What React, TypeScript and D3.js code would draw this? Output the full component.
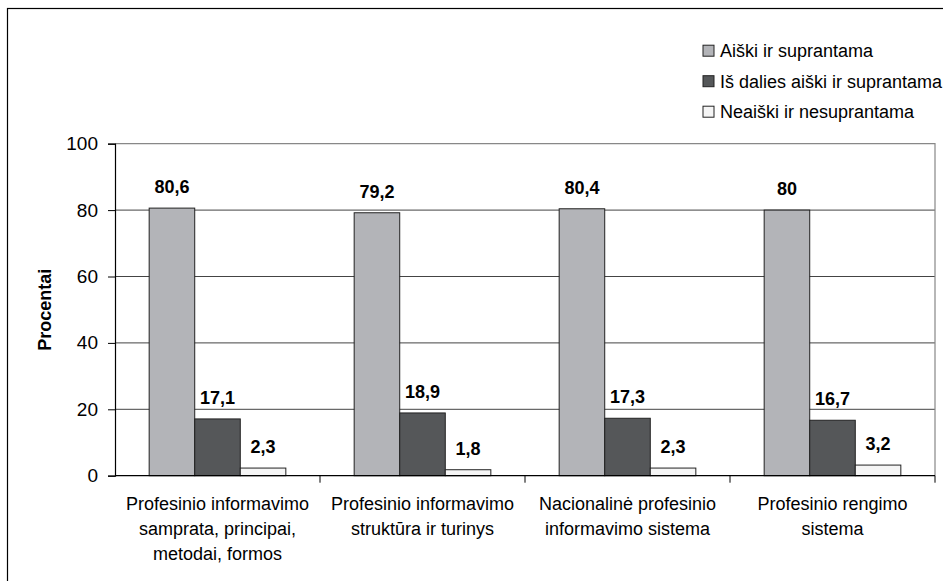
import { useEffect, useRef } from 'react';
import * as d3 from 'd3';

const categories = [
    ['Profesinio informavimo', 'samprata, principai,', 'metodai, formos'],
    ['Profesinio informavimo', 'struktūra ir turinys'],
    ['Nacionalinė profesinio', 'informavimo sistema'],
    ['Profesinio rengimo', 'sistema'],
];
const seriesNames = ['Aiški ir suprantama', 'Iš dalies aiški ir suprantama', 'Neaiški ir nesuprantama'];
const seriesColors = ['#b3b4b8', '#555759', '#f5f5f5'];
const aiski = [80.6, 79.2, 80.4, 80];
const isDalies = [17.1, 18.9, 17.3, 16.7];
const neaiski = [2.3, 1.8, 2.3, 3.2];
const yTicks = [0, 20, 40, 60, 80, 100];

const W = 943;
const H = 581;
const FONT = '"Liberation Sans", Arial, sans-serif';

export default function App() {
    const svgRef = useRef(null);

    useEffect(() => {
        const svg = d3.select(svgRef.current);
        svg.selectAll('*').remove();

        const left = 115;
        const right = 935;
        const top = 143.7;
        const bottom = 475.7;
        const values = [aiski, isDalies, neaiski];

        // outer frame
        svg.append('rect')
            .attr('x', 7.5).attr('y', 8.5)
            .attr('width', W).attr('height', H)
            .attr('fill', 'white')
            .attr('stroke', '#000')
            .attr('stroke-width', 1.2);

        const x = d3.scaleBand()
            .domain(categories.map((_, i) => String(i)))
            .range([left, right])
            .paddingInner(0)
            .paddingOuter(0);

        const xs = d3.scaleBand()
            .domain(seriesNames)
            .range([0, x.bandwidth()])
            .paddingInner(0)
            .paddingOuter(0.75);

        const y = d3.scaleLinear().domain([0, 100]).range([bottom, top]);

        // grid
        svg.append('g')
            .selectAll('line')
            .data(yTicks.filter((t) => t > 0 && t < 100))
            .join('line')
            .attr('x1', left).attr('x2', right)
            .attr('y1', (d) => y(d)).attr('y2', (d) => y(d))
            .attr('stroke', '#444')
            .attr('stroke-width', 1);

        // plot frame top / right
        svg.append('path')
            .attr('d', `M${left},${y(100)}H${right}V${bottom}`)
            .attr('fill', 'none')
            .attr('stroke', '#888')
            .attr('stroke-width', 1.2);

        // bars
        const groups = svg.append('g')
            .selectAll('g')
            .data(categories.map((_, i) => i))
            .join('g')
            .attr('transform', (i) => `translate(${x(String(i))},0)`);

        groups.selectAll('rect')
            .data((i) => seriesNames.map((s, k) => ({ s, k, v: values[k][i] })))
            .join('rect')
            .attr('x', (d) => xs(d.s))
            .attr('y', (d) => y(d.v))
            .attr('width', xs.bandwidth())
            .attr('height', (d) => bottom - y(d.v))
            .attr('fill', (d) => seriesColors[d.k])
            .attr('stroke', '#222')
            .attr('stroke-width', 1);

        groups.selectAll('text')
            .data((i) => seriesNames.map((s, k) => ({ s, k, v: values[k][i] })))
            .join('text')
            .attr('x', (d) => xs(d.s) + xs.bandwidth() / 2)
            .attr('y', (d) => y(d.v) - 15)
            .attr('text-anchor', 'middle')
            .attr('font-family', FONT)
            .attr('font-size', 18)
            .attr('font-weight', 'bold')
            .attr('fill', '#000')
            .text((d) => String(d.v).replace('.', ','));

        // y axis
        const yAxis = svg.append('g')
            .attr('transform', `translate(${left},0)`)
            .call(d3.axisLeft(y).tickValues(yTicks).tickSize(7).tickPadding(10).tickFormat(d3.format('d')));
        yAxis.select('.domain').attr('stroke', '#000').attr('stroke-width', 1.2);
        yAxis.selectAll('.tick line').attr('stroke', '#000');
        yAxis.selectAll('text')
            .attr('font-family', FONT)
            .attr('font-size', 19)
            .attr('fill', '#000');

        // x axis
        svg.append('line')
            .attr('x1', left).attr('x2', right)
            .attr('y1', bottom).attr('y2', bottom)
            .attr('stroke', '#000')
            .attr('stroke-width', 1.2);
        svg.append('g')
            .selectAll('line')
            .data(categories.map((_, i) => i))
            .join('line')
            .attr('x1', (i) => x(String(i)) + x.bandwidth())
            .attr('x2', (i) => x(String(i)) + x.bandwidth())
            .attr('y1', bottom).attr('y2', bottom + 7)
            .attr('stroke', '#000');

        // category labels
        const catText = svg.append('g')
            .selectAll('text')
            .data(categories)
            .join('text')
            .attr('x', (_, i) => x(String(i)) + x.bandwidth() / 2)
            .attr('y', 510)
            .attr('text-anchor', 'middle')
            .attr('font-family', FONT)
            .attr('font-size', 18)
            .attr('fill', '#000');
        catText.selectAll('tspan')
            .data((d) => d)
            .join('tspan')
            .attr('x', function () { return d3.select(this.parentNode).attr('x'); })
            .attr('dy', (_, j) => (j === 0 ? 0 : 25))
            .text((d) => d);

        // y title
        svg.append('text')
            .attr('transform', `translate(51,${(top + bottom) / 2}) rotate(-90)`)
            .attr('text-anchor', 'middle')
            .attr('font-family', FONT)
            .attr('font-size', 18)
            .attr('font-weight', 'bold')
            .text('Procentai');

        // legend
        const legend = svg.append('g')
            .selectAll('g')
            .data(seriesNames)
            .join('g')
            .attr('transform', (_, i) => `translate(703,${50.7 + i * 30.5})`);
        legend.append('rect')
            .attr('x', 0).attr('y', -5.5)
            .attr('width', 11).attr('height', 11)
            .attr('fill', (_, i) => seriesColors[i])
            .attr('stroke', '#222');
        legend.append('text')
            .attr('x', 17).attr('y', 6.5)
            .attr('font-family', FONT)
            .attr('font-size', 18)
            .attr('fill', '#000')
            .text((d) => d);
    }, []);

    return (
        <svg
            ref={svgRef}
            width={W}
            height={H}
            style={{ position: 'absolute', left: 0, top: 0, background: '#fff' }}
        />
    );
}
